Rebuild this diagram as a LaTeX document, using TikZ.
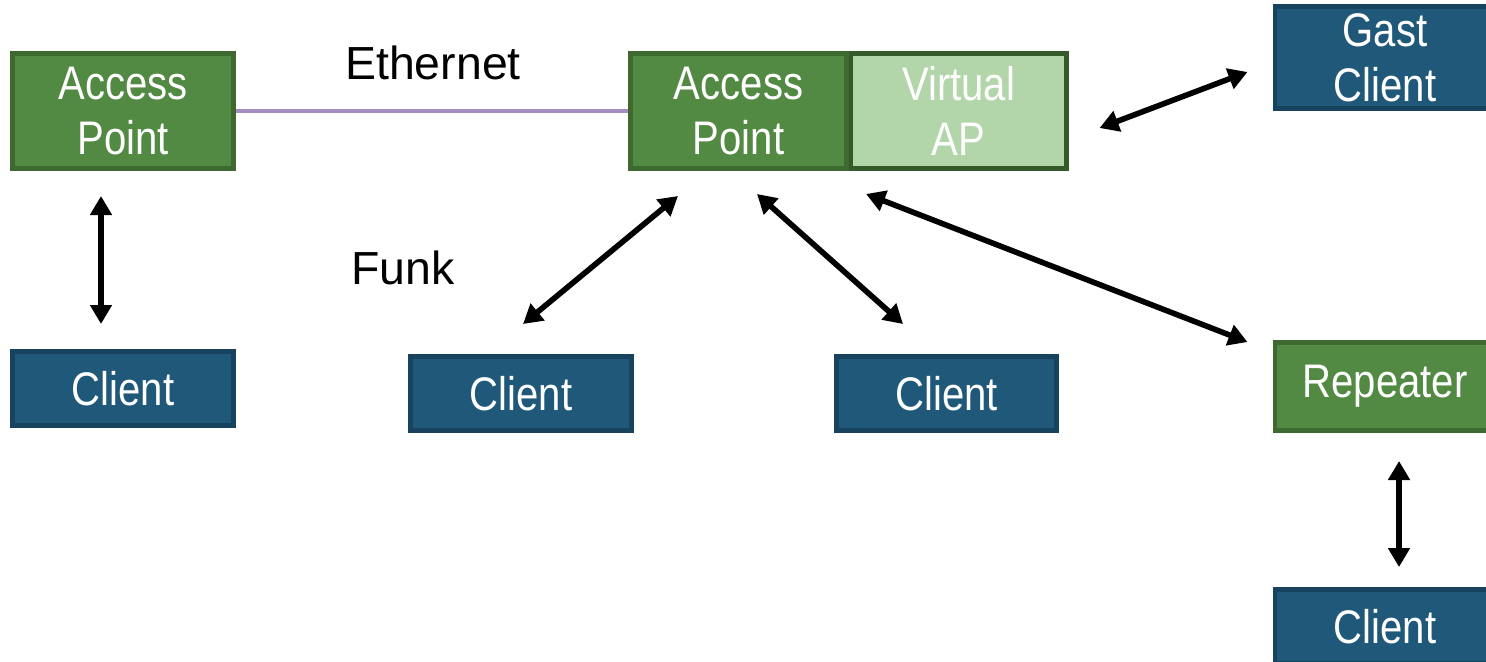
\documentclass[tikz,border=0pt]{standalone}
\usepackage{fontspec}
\setmainfont{Liberation Sans}
\newfontfamily\boxfont[FakeStretch=0.85]{Liberation Sans}
\usetikzlibrary{positioning,arrows.meta}

\definecolor{apgreen}{HTML}{538A43}
\definecolor{apborder}{HTML}{3E6A31}
\definecolor{vapgreen}{HTML}{B3D5AA}
\definecolor{clblue}{HTML}{1F5879}
\definecolor{clborder}{HTML}{17435E}
\definecolor{ethline}{HTML}{A48DC0}

\begin{document}
\begin{tikzpicture}[x=0.01cm,y=-0.01cm,
    box/.style={rectangle, draw, line width=1.4pt, inner sep=0pt, align=center,
      text=white, font=\boxfont\fontsize{13.4}{15.6}\selectfont,
      minimum width=2.2cm, minimum height=1.15cm},
    ap/.style={box, fill=apgreen, draw=apborder},
    vap/.style={box, fill=vapgreen, draw=apborder!85!black},
    client/.style={box, fill=clblue, draw=clborder, minimum height=0.74cm},
    dbl/.style={line width=1.6pt, {Triangle[length=0.19cm,width=0.21cm]}-{Triangle[length=0.19cm,width=0.21cm]}},
    lbl/.style={font=\fontsize{13.2}{15.6}\selectfont}]
  \useasboundingbox (0,0) rectangle (1486,661);
  \clip (0,0) rectangle (1486,661);

  % access points
  \node[ap] (ap1) at (123,111) {Access\\Point};
  \node[ap, minimum width=2.15cm] (ap2) at (738.5,111) {Access\\Point};
  \node[vap, minimum width=2.15cm, right=0pt of ap2] (vap) {Virtual\\AP};
  \node[ap, minimum height=0.88cm] (rep) at (1385,386.5) {Repeater};

  % clients
  \node[client] (cl1) at (123,388.5) {Client};
  \node[client] (cl2) at (521,393.5) {Client};
  \node[client] (cl3) at (946.5,393.5) {Client};
  \node[client, minimum height=1.02cm] (gast) at (1385,57.5) {Gast\\Client};
  \node[client] (cl4) at (1385,626.5) {Client};

  % labels
  \node[lbl] (eth) at (433,63) {Ethernet};
  \node[lbl] (funk) at (403,268) {Funk};

  % links
  \draw[ethline, line width=0.9pt] (ap1.east) -- (ap2.west);
  \draw[dbl] ([shift={(-22,25)}]ap1.south) -- ([shift={(-22,-25)}]cl1.north);
  \draw[dbl] ([shift={(2,-30)}]cl2.north) -- ([shift={(-60.5,25)}]ap2.south);
  \draw[dbl] ([shift={(18.5,23)}]ap2.south) -- ([shift={(-43.5,-30)}]cl3.north);
  \draw[dbl] ([shift={(-92.5,23)}]vap.south) -- ([shift={(-25,2)}]rep.north west);
  \draw[dbl] ([shift={(31,17)}]vap.east) -- ([shift={(-25,14.5)}]gast.west);
  \draw[dbl] ([shift={(14,28)}]rep.south) -- ([shift={(14,-20)}]cl4.north);
\end{tikzpicture}
\end{document}
